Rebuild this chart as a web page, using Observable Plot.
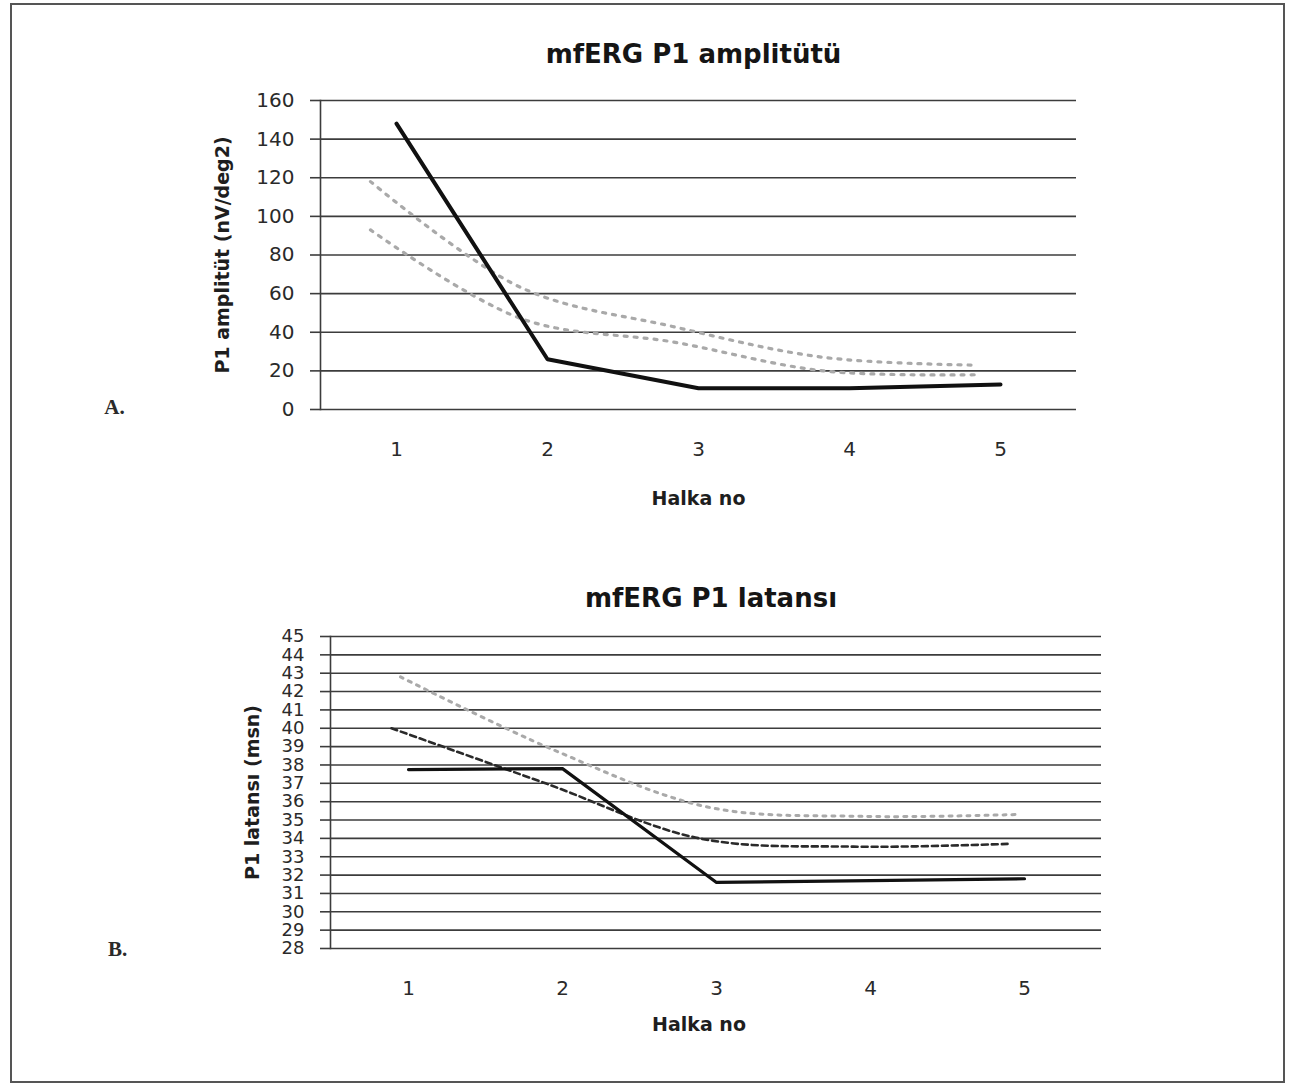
<!DOCTYPE html>
<html><head><meta charset="utf-8">
<script src="https://cdn.jsdelivr.net/npm/d3@7"></script>
<script src="https://cdn.jsdelivr.net/npm/@observablehq/plot@0.6"></script>
<style>
body{margin:0;background:#fff;}
#page{position:relative;width:1289px;height:1084px;overflow:hidden;background:#fff;}
#frame{position:absolute;left:10px;top:3px;width:1275px;height:1080px;border:2px solid #555;box-sizing:border-box;}
.chart{position:absolute;left:0;}
</style></head><body>
<div id="page"><div id="frame"></div><div id="a" class="chart" style="top:0"></div><div id="b" class="chart" style="top:530px"></div></div>
<script>
// ---- data ----
const categories = ["1", "2", "3", "4", "5"];
// A. mfERG P1 amplitude (nV/deg2)
const ampPatient   = [148, 26, 11, 11, 13];
const ampNormUpper = [118, 63, 43, 27, 23];
const ampNormLower = [93, 47, 35, 20, 18];
const ampTicks = [0, 20, 40, 60, 80, 100, 120, 140, 160];
// B. mfERG P1 latency (msn)
const latPatient   = [37.75, 37.8, 31.6, 31.7, 31.8];
const latNormUpper = [42.8, 38.8, 35.7, 35.2, 35.3];
const latNormMean  = [40.0, 37.0, 34.0, 33.55, 33.7];
const latTicks = [28,29,30,31,32,33,34,35,36,37,38,39,40,41,42,43,44,45];

const titleA = "mfERG P1 amplitütü";
const titleB = "mfERG P1 latansı";
const yLabelA = "P1 amplitüt (nV/deg2)";
const yLabelB = "P1 latansı (msn)";
const xLabel = "Halka no";

const toRows = (vals) => categories.map((c, i) => ({ring: c, v: vals[i]}));

const FONT = "DejaVu Sans";
const GRID = "#3c3c3c";

function chart({w, h, ml, mr, mt, mb, yDomain, ticks, tickFont, series, title, titleDx, titleDy, yLabel, yLabelDx, xLabelDx, xLabelDy, panel, panelDx, panelDy}) {
  const T = {textAnchor: "middle", lineAnchor: "middle"};
  return Plot.plot({
    width: w, height: h,
    marginLeft: ml, marginRight: mr, marginTop: mt, marginBottom: mb,
    style: {fontFamily: FONT, fontSize: "20px", color: "#2a2a2a", background: "transparent", overflow: "visible"},
    x: {type: "point", domain: categories, padding: 0.5},
    y: {domain: yDomain},
    marks: [
      Plot.gridY(ticks, {stroke: GRID, strokeOpacity: 1, strokeWidth: 1.6}),
      Plot.frame({anchor: "left", stroke: GRID, strokeWidth: 1.6}),
      Plot.axisY(ticks, {tickSize: 10, tickPadding: 16, label: null, stroke: GRID, strokeWidth: 1.6, fontSize: tickFont, tickFormat: d => String(d)}),
      Plot.axisX({tickSize: 0, tickPadding: 32, label: null, fontSize: 20}),
      ...series,
      Plot.text([title], {...T, text: d => d, frameAnchor: "top", dx: titleDx, dy: titleDy, fontSize: 26, fontWeight: "bold", fill: "#151515"}),
      Plot.text([yLabel], {...T, text: d => d, frameAnchor: "left", rotate: -90, dx: yLabelDx, fontSize: 19, fontWeight: "bold", fill: "#1e1e1e"}),
      Plot.text([xLabel], {...T, text: d => d, frameAnchor: "bottom", dx: xLabelDx, dy: xLabelDy, fontSize: 19, fontWeight: "bold", fill: "#1e1e1e"}),
      Plot.text([panel], {...T, text: d => d, frameAnchor: "bottom-left", dx: panelDx, dy: panelDy, fontSize: 21, fontWeight: "bold", fontFamily: "Liberation Serif", fill: "#2a2a2a"})
    ]
  });
}

const plotA = chart({
  w: 1289, h: 530, ml: 320, mr: 213, mt: 100, mb: 121,
  yDomain: [0, 160], ticks: ampTicks, tickFont: 20,
  series: [
    Plot.line(toRows(ampNormUpper), {x: "ring", y: "v", curve: "catmull-rom", stroke: "#a9a9a9", strokeWidth: 3.2, strokeDasharray: "3 7", dx: -26}),
    Plot.line(toRows(ampNormLower), {x: "ring", y: "v", curve: "catmull-rom", stroke: "#a9a9a9", strokeWidth: 3.2, strokeDasharray: "3 7", dx: -26}),
    Plot.line(toRows(ampPatient), {x: "ring", y: "v", stroke: "#111", strokeWidth: 4})
  ],
  title: titleA, titleDx: -5, titleDy: -46,
  yLabel: yLabelA, yLabelDx: -98,
  xLabelDx: 0, xLabelDy: 89,
  panel: "A.", panelDx: -206, panelDy: -2
});

const plotB = chart({
  w: 1289, h: 554, ml: 330, mr: 188, mt: 106, mb: 136,
  yDomain: [28, 45], ticks: latTicks, tickFont: 18,
  series: [
    Plot.line(toRows(latNormUpper), {x: "ring", y: "v", curve: "catmull-rom", stroke: "#a9a9a9", strokeWidth: 3, strokeDasharray: "3 6", dx: -8}),
    Plot.line(toRows(latNormMean), {x: "ring", y: "v", curve: "catmull-rom", stroke: "#2a2a2a", strokeWidth: 2.6, strokeDasharray: "6 4", dx: -17}),
    Plot.line(toRows(latPatient), {x: "ring", y: "v", stroke: "#111", strokeWidth: 3.2})
  ],
  title: titleB, titleDx: -5, titleDy: -38,
  yLabel: yLabelB, yLabelDx: -78,
  xLabelDx: -17, xLabelDy: 76,
  panel: "B.", panelDx: -213, panelDy: 1
});

document.getElementById("a").append(plotA);
document.getElementById("b").append(plotB);
</script>
</body></html>
